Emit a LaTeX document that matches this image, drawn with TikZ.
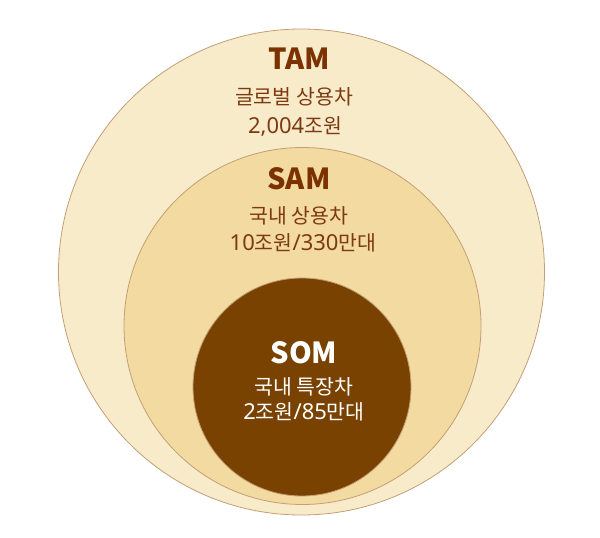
\documentclass[tikz,border=0pt]{standalone}
\usepackage{fontspec}
\setmainfont{Noto Sans CJK KR}
\newfontfamily\latinfont{Noto Sans}
\newcommand{\lat}[1]{{\latinfont\fontsize{22}{24}\selectfont #1}}
\definecolor{tamfill}{HTML}{F8EBCA}
\definecolor{samfill}{HTML}{F2DAA0}
\definecolor{somfill}{HTML}{7A4200}
\definecolor{ringline}{HTML}{C49E76}
\definecolor{titlebrown}{HTML}{7B3200}
\definecolor{textbrown}{HTML}{7D3A12}

\begin{document}
\begin{tikzpicture}[x=1pt,y=-1pt,
    ring/.style={circle,draw=ringline,line width=0.8pt,inner sep=0pt},
    title/.style={font=\fontsize{29}{31}\selectfont\bfseries,anchor=base,inner sep=0pt},
    info/.style={font=\fontsize{20.5}{22}\selectfont,inner sep=0pt}]
    \useasboundingbox (0,0) rectangle (600,538);

    % Circles
    \node[ring,fill=tamfill,minimum size=486] (tam) at (301.5,272) {};
    \node[ring,fill=samfill,minimum size=357] (sam) at (302.5,326) {};
    \node[ring,fill=somfill,minimum size=218] (som) at (302,387) {};

    % TAM
    \node[title,text=titlebrown] (tamtitle) at (299,69) {TAM};
    \node[info,text=textbrown] (tamline1) at (294,97) {글로벌 상용차};
    \node[info,text=textbrown] (tamline2) at (295,126) {\lat{2,004}조원};

    % SAM
    \node[title,text=titlebrown] (samtitle) at (299,189) {SAM};
    \node[info,text=textbrown] (samline1) at (299,216) {국내 상용차};
    \node[info,text=textbrown] (samline2) at (303,243) {\lat{10}조원\lat{/330}만대};

    % SOM
    \node[title,text=white] (somtitle) at (304,363) {SOM};
    \node[info,text=white] (somline1) at (304,387) {국내 특장차};
    \node[info,text=white] (somline2) at (304,412) {\lat{2}조원\lat{/85}만대};
\end{tikzpicture}
\end{document}
